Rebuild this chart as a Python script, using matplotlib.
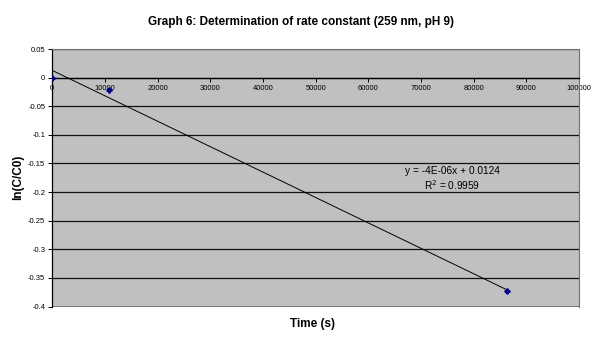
import matplotlib
matplotlib.use("Agg")
import matplotlib.pyplot as plt
import numpy as np

plt.rcParams['font.family'] = ['Liberation Sans', 'DejaVu Sans']

time_s = [0, 10800, 86400]
ln_c = [0.0, -0.021, -0.373]
x_ticks = [0, 10000, 20000, 30000, 40000, 50000, 60000, 70000, 80000, 90000, 100000]
y_ticks = [0.05, 0, -0.05, -0.1, -0.15, -0.2, -0.25, -0.3, -0.35, -0.4]
y_tick_labels = ['0.05', '0', '-0.05', '-0.1', '-0.15', '-0.2', '-0.25', '-0.3', '-0.35', '-0.4']

fig = plt.figure(figsize=(6.03, 3.42), dpi=100)
ax = fig.add_axes([0.0867, 0.1038, 0.8735, 0.7529])
ax.set_facecolor('#c0c0c0')

# linear trendline, as excel does it
slope, icpt = np.polyfit(time_s, ln_c, 1)
fx = np.array([0, time_s[-1]])
ax.plot(fx, slope * fx + icpt, color='black', lw=0.7, zorder=3)
ax.plot(time_s, ln_c, ls='none', marker='P', ms=3.5, color='#000080', zorder=4)

ax.set_xlim(0, 100000)
ax.set_ylim(-0.4, 0.05)
ax.set_yticks(y_ticks)
ax.set_yticklabels(y_tick_labels)
ax.set_xticks(x_ticks)
ax.set_xticklabels([str(v) for v in x_ticks])

ax.yaxis.grid(True, color='#111111', lw=0.9)
ax.set_axisbelow(True)

ax.spines['bottom'].set_position(('data', 0))
ax.spines['bottom'].set_linewidth(0.9)
ax.spines['left'].set_linewidth(0.9)
for s in ['top', 'right']:
    ax.spines[s].set_color('#707070')
    ax.spines[s].set_linewidth(0.8)
ax.axhline(-0.4, color='#707070', lw=1.2, zorder=2)

ax.tick_params(axis='both', labelsize=5.5, length=3, width=0.7, direction='out', pad=2)

fig.text(0.5, 0.935, 'Graph 6: Determination of rate constant (259 nm, pH 9)',
         fontsize=8.5, fontweight='bold', ha='center', va='center')
ax.set_ylabel('ln(C/C0)', fontsize=8.5, fontweight='bold', labelpad=3)
fig.text(0.519, 0.045, 'Time (s)', fontsize=8.5, fontweight='bold', ha='center')

ax.text(75900, -0.164, 'y = -4E-06x + 0.0124', fontsize=7.3, ha='center', va='center')
ax.text(75900, -0.188, 'R$^2$ = 0.9959', fontsize=7.3, ha='center', va='center')

fig.savefig('out.png', dpi=100)
